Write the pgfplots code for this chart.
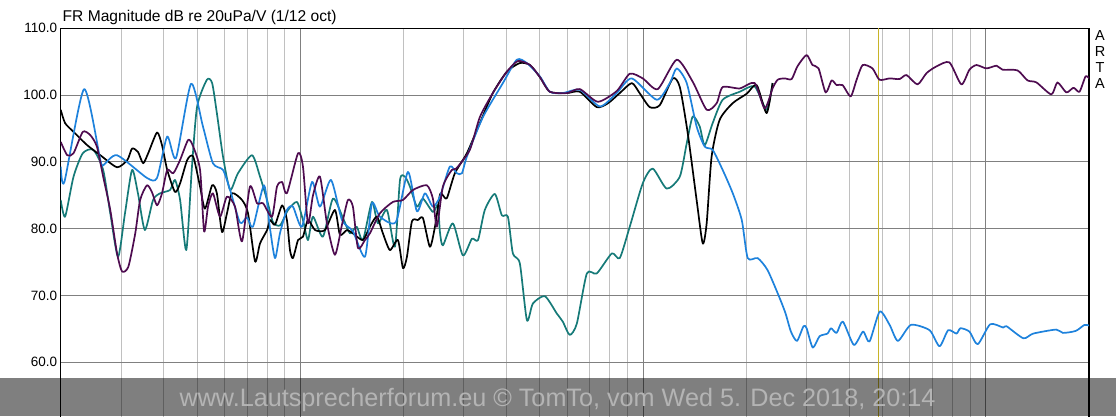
\documentclass[border=0pt]{standalone}
\usepackage{pgfplots}
\pgfplotsset{compat=1.18}
\usepackage{fontspec}
\setmainfont{Liberation Sans}

\definecolor{artaPurple}{RGB}{78,12,80}
\definecolor{artaTeal}{RGB}{22,122,120}
\definecolor{artaBlue}{RGB}{30,130,220}
\definecolor{gridMinor}{RGB}{192,192,192}
\definecolor{gridMajor}{RGB}{128,128,128}
\definecolor{cursorYellow}{RGB}{200,180,40}
\definecolor{bannerText}{RGB}{180,180,180}

\begin{document}
\begin{tikzpicture}[x=1pt,y=1pt]
\useasboundingbox (0,0) rectangle (1116,416);
\begin{axis}[
  at={(60.7pt,-13.1pt)}, anchor=south west,
  scale only axis, width=1028.3pt, height=400.8pt,
  xmode=log, xmin=20, xmax=20000, ymin=50, ymax=110,
  xtick={100,1000,10000},
  minor xtick={20,30,40,50,60,70,80,90,200,300,400,500,600,700,800,900,2000,3000,4000,5000,6000,7000,8000,9000},
  xticklabels={},
  ytick={60,70,80,90,100,110},
  extra y ticks={50}, extra y tick labels={},
  xmajorgrids, xminorgrids, ymajorgrids,
  major grid style={gridMajor, line width=1pt},
  minor grid style={gridMinor, line width=1pt},
  major tick length=0pt, minor tick length=0pt,
  axis line style={black, line width=1.2pt},
  yticklabel style={font=\fontsize{13.5}{14}\selectfont},
  every axis plot/.append style={line width=1.7pt, smooth, tension=0.4, line join=round},
  /pgf/number format/.cd, fixed, fixed zerofill, precision=1, assume math mode=true,
]
% cursor
\draw[cursorYellow, line width=1.4pt] (axis cs:4860,50) -- (axis cs:4860,110);

% teal
\addplot[artaTeal] coordinates {
(20,84.3)(20.6,81.8)(21.8,87.8)(23.2,91.3)(24.9,91.8)(26.6,88.8)(27.9,82.3)(29.4,75.8)(30.8,82.3)(32.3,88.8)(33.6,85.3)(35.2,79.8)(37.2,84.3)(39.0,85.3)(41.7,85.8)(43.1,87.3)(44.6,84.3)(46.5,76.8)(48.3,89.3)(50.0,98.3)(53.4,102.3)(55.3,101.8)(57.1,97.3)(59.5,90.8)(62.4,85.8)(65.8,88.3)(72.3,91.0)(76.3,87.8)(80.0,84.3)(83.2,81.0)(87.3,80.5)(92.1,82.8)(97.8,84.0)(101.8,81.3)(105.3,78.3)(108.9,81.8)(116.4,78.8)(124.5,84.5)(133.2,81.6)(139.6,79.3)(146,80.3)(152.3,78.3)(161.8,84.0)(168.5,80.8)(179.0,82.8)(188.8,77.3)(195.4,87.3)(201.9,87.8)(208.9,86.3)(218.9,83.3)(227.9,84.5)(243.7,82.5)(251.9,83.5)(255.5,79.5)(260.6,77.5)(278.7,80.8)(298.1,76.0)(316.7,78.5)(330,78.3)(345.4,82.8)(369.5,85.2)(387.3,82.0)(403.3,81.8)(417,76.3)(437,74.8)(458.3,66.3)(477.1,68.8)(517,69.9)(560.3,67.3)(583,66.1)(611.1,64.1)(640.9,65.8)(685.5,73.3)(732.8,73.3)(810.7,76.3)(855.1,75.6)(914.5,80.3)(998,86.8)(1067,89.0)(1172,86.0)(1280,87.8)(1341,92.8)(1396,96.8)(1463,95.3)(1513,92.5)(1596,95.8)(1707,99.3)(1914,100.5)(2117,101.3)(2293,97.8)(2387,101.8)
};

% black
\addplot[black] coordinates {
(20,97.8)(20.6,95.8)(21.8,94.5)(23.9,92.5)(26.1,91.0)(29.2,89.2)(31.3,90.3)(32.3,92.0)(33.6,91.5)(34.8,89.8)(36.0,91.3)(38.2,94.4)(39.5,92.5)(40.9,88.8)(43.1,85.5)(44.6,86.8)(46.8,90.3)(48.7,90.8)(51.0,86.3)(52.7,83.0)(55.3,86.5)(57.1,85.3)(59.1,79.5)(61.1,82.3)(63.2,85.3)(67.6,84.3)(70.4,82.3)(73.8,75.1)(76.3,77.8)(80.0,79.8)(81.6,81.3)(84.4,80.6)(88.5,83.5)(91.4,81.3)(93.3,76.8)(95.2,75.6)(98.5,78.3)(101.8,78.8)(105.3,81.3)(110.4,79.8)(118.0,79.8)(126.2,82.8)(130.5,79.1)(136.8,79.8)(142.4,79.3)(152.3,78.3)(159.6,80.3)(167.3,81.8)(174.2,79.3)(182.6,76.8)(192.7,78.3)(199.3,74.1)(204.7,75.8)(211.7,81.1)(220.4,81.3)(227.9,81.6)(238.8,77.3)(247.1,80.3)(255.5,85.1)(260.6,85.0)(267.8,84.6)(282.5,88.3)(306.2,91.3)(334.1,95.8)(364.5,100.3)(400.5,103.5)(437,104.8)(468,104.5)(500,102.7)(534.6,100.5)(599,100.3)(654,100.5)(732.8,98.2)(791,98.8)(855,100.3)(927,101.8)(977,100.3)(1046,98.2)(1119,98.5)(1221,102.5)(1280,101.2)(1350,94.3)(1433,84.3)(1493,77.8)(1533,80.8)(1585,90.8)(1673,96.3)(1827,98.8)(2006,100.2)(2145,101.5)(2293,97.3)(2387,101.8)
};

% blue
\addplot[artaBlue] coordinates {
(20,89.3)(20.5,87.0)(23.4,100.9)(26.1,90.3)(26.6,89.5)(29.2,91.0)(35.7,87.6)(38.2,87.6)(40.9,93.8)(43.4,90.6)(48.0,101.7)(52.0,95.3)(55.6,89.8)(59.5,88.8)(62.4,85.8)(66.7,80.9)(69.9,81.7)(72.8,80.3)(78.4,86.5)(81.6,80.0)(84.4,75.6)(87.3,79.4)(91.4,82.8)(95.2,83.3)(101.1,80.3)(108.2,87.0)(114.1,83.3)(122.9,87.3)(132.3,81.3)(142.4,79.6)(154.4,75.8)(161.8,83.8)(170.7,81.8)(190,81.0)(206.1,88.5)(218.9,82.6)(231,85.3)(243.7,83.3)(255.5,84.8)(273.1,89.3)(286.3,88.3)(296.2,88.3)(306.2,90.8)(341,96.7)(390,101.8)(428.3,105.3)(458,104.8)(500,102.8)(534.6,100.5)(583.2,100.3)(654,100.8)(748.2,98.3)(837.5,100.3)(927.2,102.5)(1096,99.3)(1197,101.8)(1254,104.0)(1341,101.8)(1433,95.3)(1513,92.3)(1596,91.8)(1707,88.8)(1827,85.3)(1941,81.3)(2020,75.6)(2159,75.6)(2308,73.8)(2504,69.6)(2605,67.3)(2700,64.6)(2812,63.2)(2938,65.4)(3000,65.1)(3127,62.2)(3273,63.9)(3452,64.3)(3535,65.1)(3671,64.4)(3827,66.1)(4122,62.6)(4384,64.6)(4577,63.1)(4903,67.6)(5240,65.6)(5540,63.2)(6046,65.6)(6855,64.8)(7327,62.4)(7763,64.8)(8212,64.3)(8432,65.1)(8955,64.6)(9470,62.7)(10300,65.7)(11240,65.2)(11490,65.4)(12870,63.6)(13750,64.3)(16040,64.9)(16780,64.4)(18300,64.7)(19400,65.6)(20000,65.5)
};

% purple
\addplot[artaPurple] coordinates {
(20,93.0)(20.9,91.0)(21.8,91.3)(23.2,94.5)(24.4,94.0)(25.5,92.3)(26.6,87.8)(27.9,82.8)(29.2,76.3)(30.2,73.6)(31.5,74.3)(33.0,79.3)(34.1,84.3)(35.7,86.5)(36.9,85.5)(38.2,83.5)(39.5,85.3)(40.9,88.8)(42.6,88.3)(44.6,90.3)(47.1,93.3)(48.7,92.3)(51.0,88.8)(52.4,79.6)(53.8,83.3)(55.6,85.3)(58.3,81.8)(61.1,84.8)(64.5,83.3)(67.6,78.1)(71.3,86.3)(74.8,83.8)(77.9,83.8)(82.7,81.8)(85.5,86.3)(88.5,87.0)(91.4,85.3)(98.5,91.3)(101.8,89.3)(105.3,80.8)(108.9,85.0)(114.1,87.8)(119.6,80.8)(126.2,76.1)(132.3,80.6)(137.7,84.3)(142.4,83.3)(147.3,77.1)(154.4,78.3)(159.6,79.3)(170.7,82.3)(186.2,84.0)(199.3,84.3)(213.2,85.8)(234,86.5)(243.7,84.5)(250.3,80.3)(260.6,86.3)(276.8,88.8)(285,89.0)(312.3,91.8)(334.1,96.7)(364.5,100.3)(400.5,103.5)(431.3,105.1)(468,104.5)(500,102.7)(534.6,100.5)(599,100.3)(654,100.9)(737.9,99.0)(837.5,100.6)(914.5,103.2)(998,102.5)(1104,100.9)(1254,105.3)(1396,102.0)(1533,97.8)(1640,98.8)(1707,101.2)(1914,101.0)(2117,101.8)(2263,98.0)(2387,101.0)(2470,102.3)(2588,102.5)(2713,102.4)(2821,104.3)(2999,106.0)(3121,104.5)(3251,104.0)(3410,100.4)(3550,102.2)(3670,101.5)(3822,101.5)(4033,99.8)(4198,102.3)(4371,104.5)(4669,104.0)(4893,102.3)(5240,102.5)(5600,102.4)(5870,103.0)(6320,101.6)(6718,103.3)(7180,104.3)(7830,104.9)(8486,101.6)(8955,103.8)(9389,104.5)(10040,104.0)(10750,104.4)(11190,103.8)(12370,103.7)(13230,102.2)(14050,101.9)(15530,100.1)(16180,101.9)(17180,100.4)(18020,101.1)(18760,100.5)(19540,102.8)(20000,102.5)
};
\end{axis}

% title
\node[anchor=base west, inner sep=0pt, font=\fontsize{15.6}{18}\selectfont] at (62.5,394.5) {FR Magnitude dB re 20uPa/V (1/12 oct)};

% ARTA
\foreach \l/\yy in {A/380,R/364,T/348,A/332}
  \node[inner sep=0pt, font=\fontsize{14.5}{16}\selectfont] at (1100,\yy) {\l};

% banner
\fill[black, opacity=0.5] (0,0) rectangle (1116,38);
\node[anchor=base, inner sep=0pt, text=bannerText, font=\fontsize{25.2}{28}\selectfont] at (557.5,10) {www.Lautsprecherforum.eu © TomTo, vom Wed 5. Dec 2018, 20:14};
\end{tikzpicture}
\end{document}
